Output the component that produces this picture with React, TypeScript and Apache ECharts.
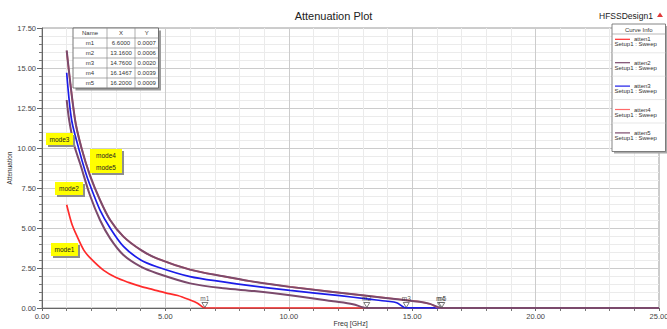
import React, { useEffect, useRef } from "react";
import * as echarts from "echarts";

const curveNames = ["atten1", "atten2", "atten3", "atten4", "atten5"];
const curveColors = ["#ff2b2b", "#7b4a6c", "#1c1ce8", "#ff6a6a", "#7b4a6c"];
const sweepLabel = "Setup1 : Sweep";

const atten1: number[][] = [
  [1.0, 6.45], [1.2, 5.3], [1.4, 4.55], [1.7, 3.6], [2.0, 3.05], [2.5, 2.35],
  [3.0, 1.9], [3.5, 1.6], [4.0, 1.35], [4.5, 1.15], [5.0, 0.95], [5.5, 0.78],
  [6.0, 0.5], [6.3, 0.3], [6.6, 0.0007], [25, 0],
];
const atten2: number[][] = [
  [1.0, 13.0], [1.1, 11.75], [1.3, 10.2], [1.55, 9.0], [1.94, 7.06], [2.35, 5.5],
  [2.76, 4.35], [3.3, 3.31], [4.0, 2.58], [4.65, 2.17], [6.0, 1.54], [7.35, 1.23],
  [8.6, 1.06], [10.05, 0.8], [11.8, 0.42], [12.6, 0.24], [13.16, 0.0006], [25, 0],
];
const atten3: number[][] = [
  [1.0, 14.7], [1.2, 11.75], [1.5, 9.9], [1.74, 8.6], [1.94, 7.7], [2.35, 6.12],
  [2.76, 5.0], [3.3, 3.85], [4.0, 3.0], [4.65, 2.58], [6.0, 1.96], [7.35, 1.63],
  [8.43, 1.4], [10.05, 1.1], [12.07, 0.77], [13.16, 0.57], [14.0, 0.42],
  [14.37, 0.33], [14.76, 0.002], [25, 0],
];
const atten4: number[][] = [
  [1.0, 16.05], [1.34, 11.75], [1.6, 10.0], [1.94, 8.3], [2.35, 6.75], [2.76, 5.5],
  [3.3, 4.46], [4.0, 3.63], [4.65, 3.1], [6.0, 2.4], [7.35, 1.98], [8.43, 1.68],
  [10.05, 1.32], [13.16, 0.76], [14.5, 0.53], [15.3, 0.39], [15.72, 0.25],
  [16.1467, 0.0039], [25, 0],
];
const atten5: number[][] = [
  [1.0, 16.1], [1.34, 11.75], [1.6, 10.0], [1.94, 8.3], [2.35, 6.75], [2.76, 5.5],
  [3.3, 4.46], [4.0, 3.63], [4.65, 3.1], [6.0, 2.4], [7.35, 1.98], [8.43, 1.68],
  [10.05, 1.32], [13.16, 0.76], [14.5, 0.53], [15.3, 0.39], [15.72, 0.26],
  [16.2, 0.0009], [25, 0],
];
const curves = [atten1, atten2, atten3, atten4, atten5];

const markerNames = ["m1", "m2", "m3", "m4", "m5"];
const markerX = [6.6, 13.16, 14.76, 16.1467, 16.2];
const markerY = [0.0007, 0.0006, 0.002, 0.0039, 0.0009];

const modeBoxes = [
  { lines: ["mode3"], x: 46, y: 133, w: 27, h: 12 },
  { lines: ["mode4", "mode5"], x: 90, y: 149, w: 32, h: 24 },
  { lines: ["mode2"], x: 55, y: 182, w: 28, h: 13 },
  { lines: ["mode1"], x: 51, y: 243, w: 27, h: 13 },
];

const FONT = "Liberation Sans, Arial, sans-serif";

function buildGraphics() {
  const g: any[] = [];
  const txt = (text: string, x: number, y: number, size: number, align = "center", fill = "#222", weight = "normal") => ({
    type: "text",
    x,
    y,
    z: 20,
    style: { text, fontSize: size, fontFamily: FONT, fill, align, verticalAlign: "middle", fontWeight: weight },
  });
  const rect = (x: number, y: number, w: number, h: number, fill: string, stroke?: string, lw = 0.8) => ({
    type: "rect",
    z: 20,
    shape: { x, y, width: w, height: h },
    style: { fill, stroke: stroke || "none", lineWidth: lw },
  });
  const line = (x1: number, y1: number, x2: number, y2: number, stroke: string, lw = 0.7) => ({
    type: "line",
    z: 20,
    shape: { x1, y1, x2, y2 },
    style: { stroke, lineWidth: lw },
  });

  // marker table
  const tx = 73, ty = 28, rowH = 10;
  const cols = [73, 107, 135, 158.5];
  const nRows = markerNames.length + 1;
  g.push(rect(tx + 2.5, ty + 2.5, cols[3] - tx, rowH * nRows, "#9c9c9c"));
  g.push(rect(tx, ty, cols[3] - tx, rowH * nRows, "#ffffff", "#555", 0.8));
  for (let r = 1; r < nRows; r++) g.push(line(tx, ty + r * rowH, cols[3], ty + r * rowH, "#8a8a8a"));
  g.push(line(cols[1], ty, cols[1], ty + rowH * nRows, "#8a8a8a"));
  g.push(line(cols[2], ty, cols[2], ty + rowH * nRows, "#8a8a8a"));
  const cx = [(cols[0] + cols[1]) / 2, (cols[1] + cols[2]) / 2, (cols[2] + cols[3]) / 2];
  ["Name", "X", "Y"].forEach((h, i) => g.push(txt(h, cx[i], ty + rowH / 2, 6, "center", "#333")));
  markerNames.forEach((m, r) => {
    const yy = ty + (r + 1) * rowH + rowH / 2;
    g.push(txt(m, cx[0], yy, 6, "center", "#333"));
    g.push(txt(markerX[r].toFixed(4), cx[1], yy, 6, "center", "#333"));
    g.push(txt(markerY[r].toFixed(4), cx[2], yy, 6, "center", "#333"));
  });

  // mode labels
  modeBoxes.forEach((b) => {
    g.push(rect(b.x + 2, b.y + 2, b.w, b.h, "#8e8e8e"));
    g.push(rect(b.x, b.y, b.w, b.h, "#ffff00"));
    b.lines.forEach((t, i) => {
      const yy = b.y + (b.h / b.lines.length) * (i + 0.5);
      g.push(txt(t, b.x + b.w / 2, yy, 6.5, "center", "#222"));
    });
  });

  // curve info legend
  const lx = 612, lyTop = 24, lw = 53.5, lh = 127.5;
  g.push(rect(lx + 2, lyTop + 2, lw, lh, "#a8a8a8"));
  g.push(rect(lx, lyTop, lw, lh, "#ffffff", "#666", 0.8));
  g.push(txt("Curve Info", lx + lw / 2, 29.6, 6, "center", "#333"));
  g.push(line(lx, 34, lx + lw, 34, "#999"));
  curveNames.forEach((n, i) => {
    const by = 39.3 + i * 23.4;
    g.push(line(615, by, 630, by, curveColors[i], 1.2));
    g.push(txt(n, 634, by, 6, "left", "#333"));
    g.push(txt(sweepLabel, 614.5, by + 5, 6, "left", "#333"));
    if (i < curveNames.length - 1) g.push(line(lx, by + 13.5, lx + lw, by + 13.5, "#dddddd"));
  });

  // red triangle at top right
  g.push({
    type: "polygon",
    z: 20,
    shape: { points: [[657, 17], [660, 12.5], [663, 17]] },
    style: { fill: "#e03a3a" },
  });
  return g;
}

export default function App() {
  const ref = useRef<HTMLDivElement>(null);
  useEffect(() => {
    if (!ref.current) return;
    const chart = echarts.init(ref.current, undefined, { renderer: "svg" });
    const lineSeries = curves.map((data, i) => ({
      type: "line",
      name: curveNames[i],
      data,
      showSymbol: false,
      smooth: 0.3,
      lineStyle: { color: curveColors[i], width: i === 1 || i === 4 ? 2 : 1.7 },
      itemStyle: { color: curveColors[i] },
      z: 2 + i,
    }));
    const option: any = {
      animation: false,
      backgroundColor: "#ffffff",
      textStyle: { fontFamily: FONT },
      title: [
        {
          text: "Attenuation Plot",
          left: "center",
          top: 10,
          padding: 0,
          textStyle: { fontSize: 11, fontWeight: "normal", color: "#222", fontFamily: FONT },
        },
        {
          text: "HFSSDesign1",
          left: 599,
          top: 11.5,
          padding: 0,
          textStyle: { fontSize: 8.5, fontWeight: "normal", color: "#222", fontFamily: FONT },
        },
      ],
      grid: {
        left: 42,
        right: 8,
        top: 28,
        bottom: 21,
        show: true,
        borderColor: "#9a9a9a",
        borderWidth: 1,
        outerBoundsMode: "none",
        containLabel: false,
      },
      xAxis: {
        type: "value",
        min: 0,
        max: 25,
        interval: 5,
        name: "Freq [GHz]",
        nameLocation: "middle",
        nameGap: 12,
        nameMoveOverlap: false,
        nameTextStyle: { fontSize: 7, color: "#333", fontFamily: FONT },
        axisLine: { show: true, onZero: false, lineStyle: { color: "#666", width: 1 } },
        axisTick: { show: true, length: 3, lineStyle: { color: "#666" } },
        minorTick: { show: true, splitNumber: 5, length: 3, lineStyle: { color: "#777" } },
        axisLabel: {
          fontSize: 7.5,
          color: "#444",
          margin: 4,
          formatter: (v: number) => v.toFixed(2),
        },
        splitLine: { show: true, lineStyle: { color: "#cccccc", width: 1 } },
        minorSplitLine: { show: true, lineStyle: { color: "#ebebeb", width: 1 } },
      },
      yAxis: {
        type: "value",
        min: 0,
        max: 17.5,
        interval: 2.5,
        name: "Attenuation",
        nameLocation: "middle",
        nameGap: 29,
        nameMoveOverlap: false,
        nameTextStyle: { fontSize: 6.5, color: "#333", fontFamily: FONT },
        axisLine: { show: true, lineStyle: { color: "#666", width: 1 } },
        axisTick: { show: true, length: 5, lineStyle: { color: "#666" } },
        minorTick: { show: true, splitNumber: 5, length: 3, lineStyle: { color: "#777" } },
        axisLabel: {
          fontSize: 7.5,
          color: "#444",
          margin: 6,
          formatter: (v: number) => v.toFixed(2),
        },
        splitLine: { show: true, lineStyle: { color: "#cccccc", width: 1 } },
        minorSplitLine: { show: true, lineStyle: { color: "#ebebeb", width: 1 } },
      },
      series: [
        ...lineSeries,
        {
          type: "scatter",
          name: "markers",
          z: 10,
          symbol: "triangle",
          symbolRotate: 180,
          symbolSize: [6, 5],
          symbolOffset: [0, -3],
          itemStyle: { color: "#ffffff", borderColor: "#333", borderWidth: 0.8 },
          label: {
            show: true,
            position: "top",
            distance: 0,
            formatter: "{b}",
            fontSize: 6.5,
            color: "#333",
            fontFamily: FONT,
          },
          data: markerNames.map((n, i) => ({ name: n, value: [markerX[i], markerY[i]] })),
        },
      ],
      graphic: buildGraphics(),
    };
    chart.setOption(option);
    return () => chart.dispose();
  }, []);
  return (
    <div
      ref={ref}
      style={{ position: "fixed", left: 0, top: 0, width: 667, height: 329, background: "#fff" }}
    />
  );
}
